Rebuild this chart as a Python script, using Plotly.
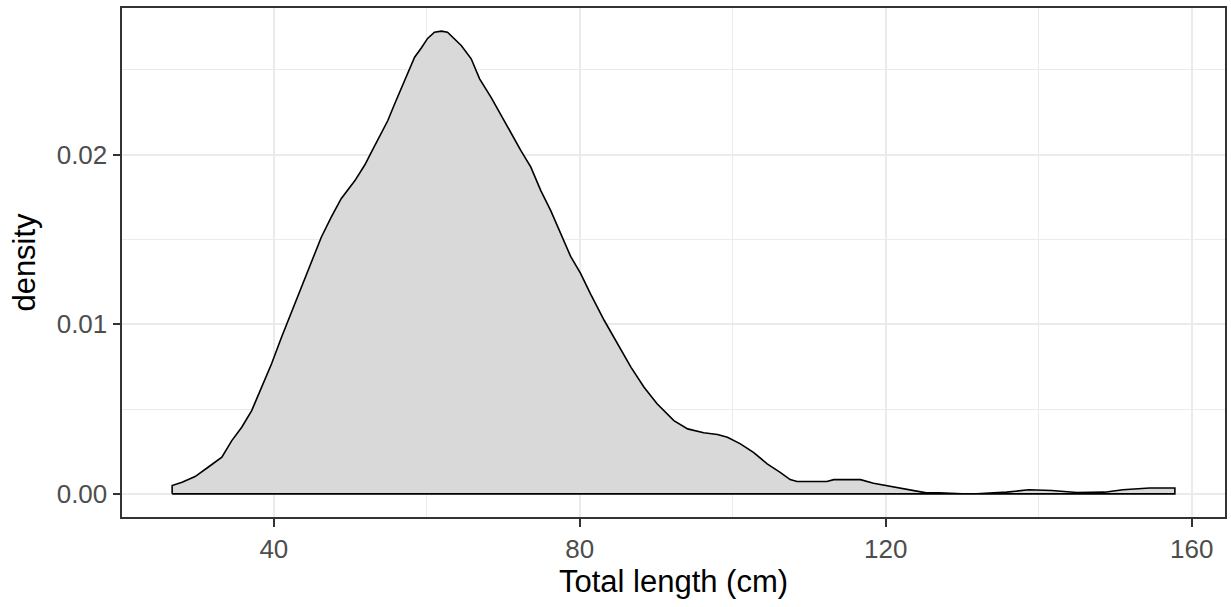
import plotly.graph_objects as go

# Total length (cm) and estimated kernel density
length_cm = [26.7, 28.0, 29.7, 31.4, 33.2, 34.5, 35.8, 37.1, 38.4, 39.7,
             41.0, 42.3, 43.6, 44.9, 46.2, 47.5, 48.8, 50.6, 51.9, 52.7,
             54.0, 54.9, 55.8, 56.7, 57.5, 58.4, 59.3, 60.1, 61.0, 61.9,
             62.7, 64.5, 65.8, 66.9, 68.4, 70.1, 71.0, 72.3, 73.6, 74.9,
             76.2, 77.5, 78.8, 80.1, 81.4, 83.2, 84.9, 86.7, 88.4, 90.1,
             92.3, 94.1, 96.2, 98.0, 99.3, 101.0, 102.7, 104.5, 106.2, 107.5,
             108.4, 110.3, 112.3, 113.2, 115.0, 116.7, 118.4, 120.1, 121.9, 123.6,
             125.3, 127.0, 128.4, 130.0, 131.9, 133.8, 135.8, 138.7, 141.7, 145.0,
             148.6, 151.0, 154.5, 157.8]
density = [0.00049, 0.00068, 0.00102, 0.00157, 0.00216, 0.00314, 0.00393, 0.00491, 0.00629, 0.00767,
           0.00923, 0.01070, 0.01218, 0.01375, 0.01513, 0.01631, 0.01740, 0.01847, 0.01940, 0.02010,
           0.02123, 0.02201, 0.02300, 0.02397, 0.02476, 0.02574, 0.02630, 0.02685, 0.02722, 0.02728,
           0.02722, 0.02643, 0.02565, 0.02447, 0.02338, 0.02201, 0.02123, 0.02024, 0.01926, 0.01788,
           0.01670, 0.01530, 0.01400, 0.01300, 0.01179, 0.01022, 0.00884, 0.00746, 0.00629, 0.00531,
           0.00432, 0.00383, 0.00360, 0.00350, 0.00334, 0.00295, 0.00245, 0.00177, 0.00127, 0.00084,
           0.00073, 0.00073, 0.00073, 0.00084, 0.00086, 0.00084, 0.00063, 0.00049, 0.00033, 0.00019,
           0.00006, 0.00006, 0.00003, 0.00000, 0.00001, 0.00005, 0.00010, 0.00024, 0.00020, 0.00008,
           0.00010, 0.00024, 0.00035, 0.00035]

x_ticks = [40, 80, 120, 160]
x_minor = [20, 60, 100, 140]
y_ticks = [0.0, 0.01, 0.02]
y_ticktext = ["0.00", "0.01", "0.02"]
y_minor = [0.005, 0.015, 0.025]

# closed polygon (full outline as in ggplot geom_density)
poly_x = [length_cm[0]] + length_cm + [length_cm[-1], length_cm[0]]
poly_y = [0.0] + density + [0.0, 0.0]

xmin, xmax = min(length_cm), max(length_cm)
xpad = 0.05 * (xmax - xmin)
ymax = max(density)
ypad = 0.05 * ymax

FONT = "Liberation Sans, Arial, sans-serif"
GRID = "#EBEBEB"
BORDER = "#333333"

fig = go.Figure()
fig.add_trace(go.Scatter(
    x=poly_x, y=poly_y, mode="lines", fill="toself",
    fillcolor="#D9D9D9", line=dict(color="black", width=1.6),
    hoverinfo="skip", showlegend=False,
))

fig.update_layout(
    width=1231, height=607,
    margin=dict(l=122, r=6, t=8, b=90),
    paper_bgcolor="white", plot_bgcolor="white",
    font=dict(family=FONT, color="black"),
    showlegend=False,
)
fig.update_xaxes(
    range=[xmin - xpad, xmax + xpad],
    tickmode="array", tickvals=x_ticks,
    ticks="outside", ticklen=7.5, tickwidth=2, tickcolor=BORDER,
    tickfont=dict(size=26, color="#4D4D4D", family=FONT),
    showgrid=True, gridcolor=GRID, gridwidth=2,
    minor=dict(tickvals=x_minor, showgrid=True, gridcolor=GRID, gridwidth=1.3, ticks=""),
    showline=True, mirror=True, linecolor=BORDER, linewidth=2,
    zeroline=False, automargin=False,
    title=dict(text="Total length (cm)", font=dict(size=31, color="black", family=FONT), standoff=6),
)
fig.update_yaxes(
    range=[-ypad, ymax + ypad],
    tickmode="array", tickvals=y_ticks, ticktext=y_ticktext,
    ticks="outside", ticklen=7.5, tickwidth=2, tickcolor=BORDER,
    tickfont=dict(size=26, color="#4D4D4D", family=FONT),
    showgrid=True, gridcolor=GRID, gridwidth=2,
    minor=dict(tickvals=y_minor, showgrid=True, gridcolor=GRID, gridwidth=1.3, ticks=""),
    showline=True, mirror=True, linecolor=BORDER, linewidth=2,
    zeroline=False, automargin=False,
    title=dict(text="density", font=dict(size=31, color="black", family=FONT), standoff=12),
)

fig.write_html(
    "out.html",
    config={"displayModeBar": False},
    post_script="document.body.style.margin='0';document.body.style.overflow='hidden';",
)
